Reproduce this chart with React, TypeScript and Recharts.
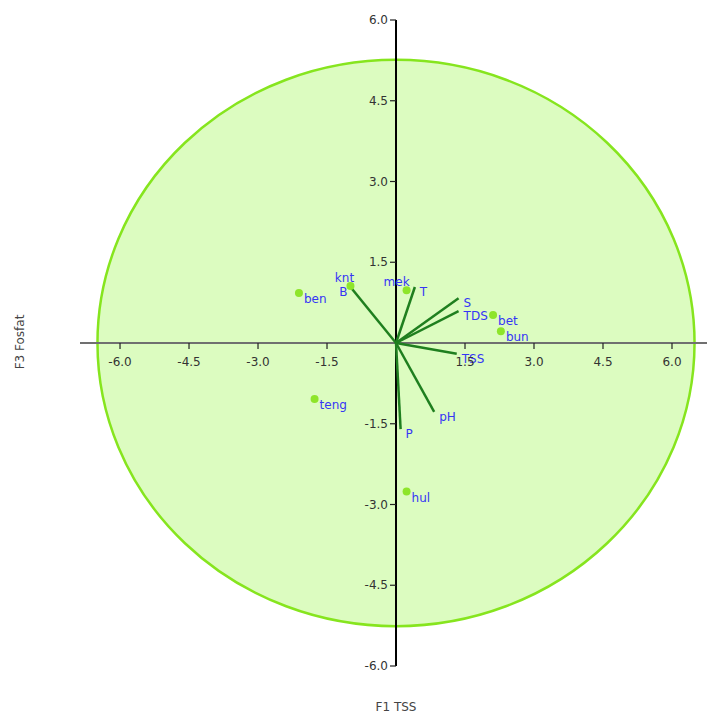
import { ReferenceDot, ReferenceLine, Scatter, ScatterChart, XAxis, YAxis } from 'recharts'

const W = 707
const H = 716
const TOP = 20
const LEFT = 80
const X_AXIS_H = 50
const X_DOMAIN: [number, number] = [-6.87, 6.761]
const Y_DOMAIN: [number, number] = [-6, 6]

const ticks = [-6, -4.5, -3, -1.5, 1.5, 3, 4.5, 6]

// observations (F1, F3)
const sites = ['ben', 'knt', 'mek', 'bet', 'bun', 'teng', 'hul']
const siteF1 = [-2.11, -0.99, 0.23, 2.11, 2.28, -1.77, 0.23]
const siteF3 = [0.93, 1.06, 0.98, 0.52, 0.22, -1.04, -2.76]

// variable loadings (F1, F3)
const vars = ['B', 'T', 'S', 'TDS', 'TSS', 'pH', 'P']
const varF1 = [-0.99, 0.41, 1.36, 1.36, 1.32, 0.83, 0.1]
const varF3 = [1.04, 1.04, 0.83, 0.59, -0.2, -1.28, -1.6]

// circle radius in axis units
const circleRx = 6.49
const circleRy = 5.26

const siteData = sites.map((name, i) => ({ name, x: siteF1[i], y: siteF3[i] }))
const varData = vars.map((name, i) => ({ name, x: varF1[i], y: varF3[i] }))

const plotW = W - LEFT
const plotH = H - TOP - X_AXIS_H
const pxX = plotW / (X_DOMAIN[1] - X_DOMAIN[0])
const pxY = plotH / (Y_DOMAIN[1] - Y_DOMAIN[0])
const originX = LEFT + (0 - X_DOMAIN[0]) * pxX
const originY = TOP + Y_DOMAIN[1] * pxY

const FONT = '"DejaVu Sans", sans-serif'
const LABEL_BLUE = '#3535f5'
const DOT = '#8ee52a'

const siteLabelPos: Record<string, { dx: number; dy: number; anchor: string }> = {
  knt: { dx: -6, dy: -4, anchor: 'middle' },
  mek: { dx: -10, dy: -4, anchor: 'middle' },
}

function XTick(props: any) {
  const { x, payload } = props
  return (
    <g>
      <line x1={x} x2={x} y1={originY} y2={originY + 6} stroke="#222" strokeWidth={1.2} />
      <text x={x} y={originY + 23} textAnchor="middle" fontSize={12} fontFamily={FONT} fill="#333">
        {payload.value.toFixed(1)}
      </text>
    </g>
  )
}

function YTick(props: any) {
  const { y, payload } = props
  return (
    <g>
      <line x1={originX - 6} x2={originX} y1={y} y2={y} stroke="#222" strokeWidth={1.2} />
      <text x={originX - 8} y={y + 4} textAnchor="end" fontSize={12} fontFamily={FONT} fill="#333">
        {payload.value.toFixed(1)}
      </text>
    </g>
  )
}

function SiteShape(props: any) {
  const { cx, cy, payload } = props
  const pos = siteLabelPos[payload.name] ?? { dx: 5, dy: 10, anchor: 'start' }
  return (
    <g>
      <circle cx={cx} cy={cy} r={4} fill={DOT} />
      <text x={cx + pos.dx} y={cy + pos.dy} textAnchor={pos.anchor} fontSize={12} fontFamily={FONT} fill={LABEL_BLUE}>
        {payload.name}
      </text>
    </g>
  )
}

function VarLabel(props: any) {
  const { cx, cy, payload } = props
  const left = payload.name === 'B'
  return (
    <text x={left ? cx - 3 : cx + 5} y={cy + 9} textAnchor={left ? 'end' : 'start'} fontSize={12} fontFamily={FONT} fill={LABEL_BLUE}>
      {payload.name}
    </text>
  )
}

function Ellipse(props: any) {
  const { cx, cy } = props
  return <ellipse cx={cx} cy={cy} rx={circleRx * pxX} ry={circleRy * pxY} fill="#dcfcc0" stroke="#86e51e" strokeWidth={2.5} />
}

export default function App() {
  return (
    <div style={{ position: 'absolute', left: 0, top: 0, width: W, height: H, background: '#fff' }}>
      <ScatterChart width={W} height={H} margin={{ top: TOP, right: 0, bottom: 0, left: 0 }}>
        <XAxis
          type="number"
          dataKey="x"
          domain={X_DOMAIN}
          allowDataOverflow
          ticks={ticks}
          interval={0}
          height={X_AXIS_H}
          axisLine={false}
          tickLine={false}
          tick={XTick}
          label={{
            content: () => (
              <text x={originX} y={H - 5} textAnchor="middle" fontSize={12} fontFamily={FONT} fill="#444">
                F1 TSS
              </text>
            ),
          }}
        />
        <YAxis
          type="number"
          dataKey="y"
          domain={Y_DOMAIN}
          allowDataOverflow
          ticks={ticks}
          interval={0}
          width={LEFT}
          axisLine={false}
          tickLine={false}
          tick={YTick}
          label={{
            content: () => (
              <text x={24} y={342} textAnchor="middle" fontSize={12} fontFamily={FONT} fill="#444" transform="rotate(-90 24 342)">
                F3 Fosfat
              </text>
            ),
          }}
        />
        <ReferenceDot x={0} y={0} r={0} shape={Ellipse} ifOverflow="visible" zIndex={-100} />
        <ReferenceLine y={0} stroke="#707070" strokeWidth={2} zIndex={50} />
        <ReferenceLine segment={[{ x: 0, y: -6 }, { x: 0, y: 6 }]} stroke="#000" strokeWidth={2} ifOverflow="visible" zIndex={50} />
        {varData.map((v) => (
          <ReferenceLine
            key={v.name}
            segment={[{ x: 0, y: 0 }, { x: v.x, y: v.y }]}
            stroke="#1f7f1f"
            strokeWidth={2.5}
            ifOverflow="visible"
            zIndex={60}
          />
        ))}
        <Scatter data={varData} shape={VarLabel} isAnimationActive={false} />
        <Scatter data={siteData} shape={SiteShape} isAnimationActive={false} />
      </ScatterChart>
    </div>
  )
}
